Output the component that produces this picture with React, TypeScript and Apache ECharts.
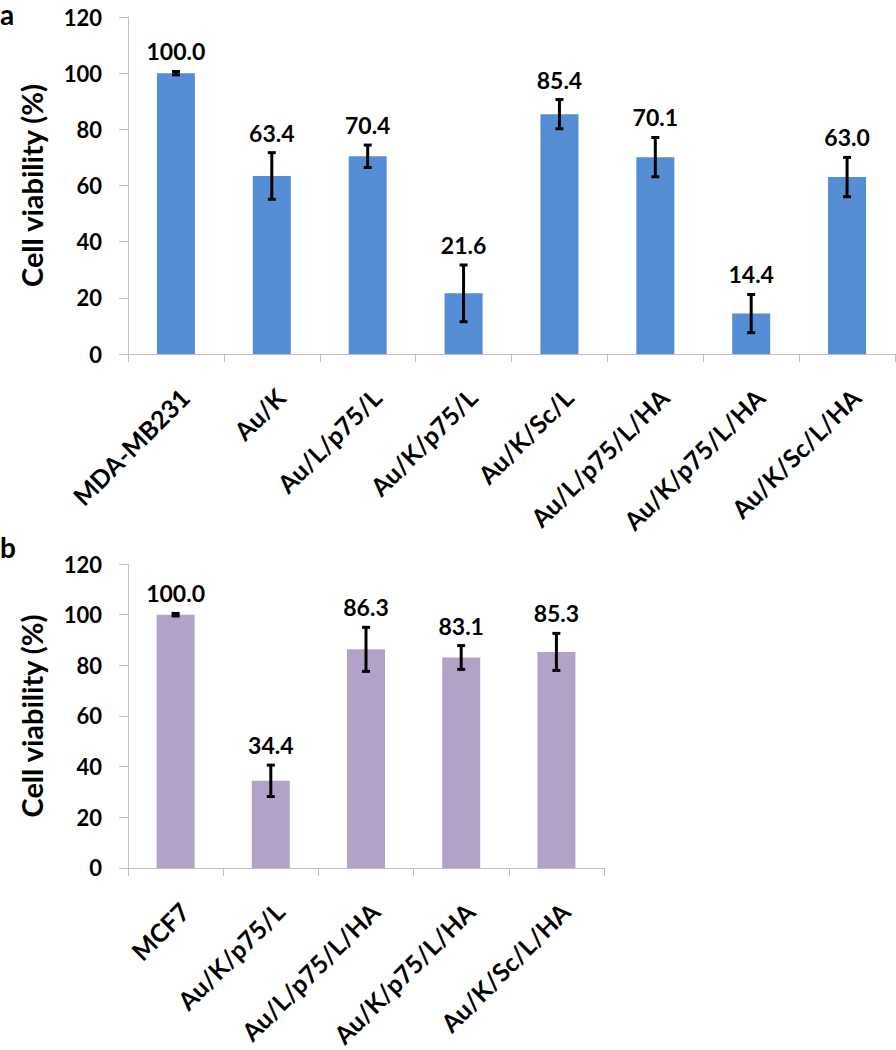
import React, { useEffect, useRef } from "react";
import * as echarts from "echarts";

const catsA = ["MDA-MB231", "Au/K", "Au/L/p75/L", "Au/K/p75/L", "Au/K/Sc/L", "Au/L/p75/L/HA", "Au/K/p75/L/HA", "Au/K/Sc/L/HA"];
const valsA = [100.0, 63.4, 70.4, 21.6, 85.4, 70.1, 14.4, 63.0];
const errA = [0.6, 8.3, 4.0, 10.1, 5.2, 7.0, 6.8, 7.0];

const catsB = ["MCF7", "Au/K/p75/L", "Au/L/p75/L/HA", "Au/K/p75/L/HA", "Au/K/Sc/L/HA"];
const valsB = [100.0, 34.4, 86.3, 83.1, 85.3];
const errB = [0.5, 6.2, 8.7, 4.7, 7.3];

const yMin = 0;
const yMax = 120;
const yStep = 20;
const yTitle = "Cell viability (%)";
const panelLabels = ["a", "b"];

const FONT = "Lato";
const BLUE = "#558ED5";
const PURPLE = "#B3A2C7";
const AXIS = "#BFBFBF";

function errRender(params: any, api: any) {
  const idx = api.value(0);
  const v = api.value(1);
  const e = api.value(2);
  const hi = api.coord([idx, v + e]);
  const lo = api.coord([idx, v - e]);
  const cx = hi[0];
  const cap = 4;
  const st = { stroke: "#000", lineWidth: 3 };
  return {
    type: "group",
    children: [
      { type: "line", shape: { x1: cx, y1: hi[1], x2: cx, y2: lo[1] }, style: st },
      { type: "line", shape: { x1: cx - cap, y1: hi[1], x2: cx + cap, y2: hi[1] }, style: st },
      { type: "line", shape: { x1: cx - cap, y1: lo[1], x2: cx + cap, y2: lo[1] }, style: st },
      {
        type: "text",
        x: cx,
        y: hi[1] - 20,
        style: {
          text: v.toFixed(1),
          fontFamily: FONT,
          fontWeight: "bold",
          fontSize: 23,
          fill: "#000",
          align: "center",
          verticalAlign: "middle",
        },
      },
    ],
  };
}

function xAxisOf(cats: string[], gi: number) {
  return {
    type: "category",
    gridIndex: gi,
    data: cats,
    axisLine: { show: true, lineStyle: { color: AXIS, width: 1 } },
    axisTick: { show: true, length: 8, alignWithLabel: false, interval: 0, lineStyle: { color: AXIS } },
    axisLabel: {
      interval: 0,
      rotate: 45,
      margin: 30,
      align: "right",
      verticalAlign: "top",
      fontFamily: FONT,
      fontWeight: "bold",
      fontSize: 25,
      color: "#000",
    },
    splitLine: { show: false },
  };
}

function yAxisOf(gi: number) {
  return {
    type: "value",
    gridIndex: gi,
    min: yMin,
    max: yMax,
    interval: yStep,
    name: yTitle,
    nameLocation: "middle",
    nameGap: 82,
    nameTextStyle: { fontFamily: FONT, fontWeight: "bold", fontSize: 29, color: "#000" },
    axisLine: { show: true, lineStyle: { color: AXIS, width: 1 } },
    axisTick: { show: true, length: 9, lineStyle: { color: AXIS } },
    axisLabel: { margin: 26, fontFamily: FONT, fontWeight: "bold", fontSize: 22, color: "#000" },
    splitLine: { show: false },
  };
}

export default function App() {
  const ref = useRef<HTMLDivElement>(null);
  useEffect(() => {
    if (!ref.current) return;
    const chart = echarts.init(ref.current, null, { renderer: "svg" });
    chart.setOption({
      animation: false,
      backgroundColor: "#fff",
      grid: [
        { left: 128, top: 17, width: 767, height: 337 },
        { left: 128, top: 564, width: 476, height: 329 },
      ],
      xAxis: [xAxisOf(catsA, 0), xAxisOf(catsB, 1)],
      yAxis: [yAxisOf(0), yAxisOf(1)],
      graphic: [
        { type: "text", left: 0, top: 0, style: { text: panelLabels[0], fontFamily: FONT, fontWeight: "bold", fontSize: 28, lineHeight: 12, fill: "#000" } },
        { type: "text", left: 0, top: 533, style: { text: panelLabels[1], fontFamily: FONT, fontWeight: "bold", fontSize: 28, fill: "#000" } },
      ],
      series: [
        { type: "bar", xAxisIndex: 0, yAxisIndex: 0, data: valsA, barWidth: 38, itemStyle: { color: BLUE } },
        { type: "bar", xAxisIndex: 1, yAxisIndex: 1, data: valsB, barWidth: 38, itemStyle: { color: PURPLE } },
        {
          type: "custom",
          xAxisIndex: 0,
          yAxisIndex: 0,
          renderItem: errRender,
          data: valsA.map((v, i) => [i, v, errA[i]]),
          z: 10,
        },
        {
          type: "custom",
          xAxisIndex: 1,
          yAxisIndex: 1,
          renderItem: errRender,
          data: valsB.map((v, i) => [i, v, errB[i]]),
          z: 10,
        },
      ],
    });
    return () => chart.dispose();
  }, []);
  return <div ref={ref} style={{ position: "absolute", left: 0, top: 0, width: 896, height: 1050 }} />;
}
